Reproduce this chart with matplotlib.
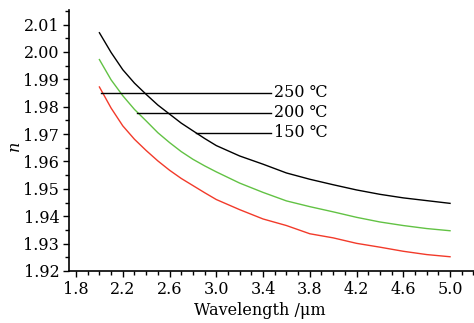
#!/usr/bin/env python3

# refractive index vs wavelength at three temperatures.

import matplotlib
matplotlib.use('Agg')
from matplotlib import pyplot as plt
from matplotlib.ticker import MultipleLocator

wavelength = [2.0, 2.1, 2.2, 2.3, 2.4, 2.5, 2.6, 2.7, 2.8, 2.9, 3.0,
              3.2, 3.4, 3.6, 3.8, 4.0, 4.2, 4.4, 4.6, 4.8, 5.0]
n_250 = [2.0070, 1.9998, 1.9935, 1.9886, 1.9845, 1.9806, 1.9773, 1.9740, 1.9712, 1.9684, 1.9658,
         1.9620, 1.9590, 1.9558, 1.9535, 1.9515, 1.9496, 1.9480, 1.9467, 1.9457, 1.9447]
n_200 = [1.9972, 1.9898, 1.9840, 1.9790, 1.9748, 1.9705, 1.9669, 1.9636, 1.9608, 1.9584, 1.9562,
         1.9521, 1.9487, 1.9456, 1.9435, 1.9416, 1.9396, 1.9379, 1.9366, 1.9355, 1.9347]
n_150 = [1.9872, 1.9795, 1.9730, 1.9681, 1.9640, 1.9602, 1.9568, 1.9538, 1.9512, 1.9486, 1.9461,
         1.9424, 1.9390, 1.9366, 1.9336, 1.9321, 1.9301, 1.9287, 1.9272, 1.9260, 1.9252]

labels = ['250 ℃', '200 ℃', '150 ℃']
# leader lines: (start x, y) in data units, all end at LABEL_X
leaders = [(2.01, 1.9850), (2.32, 1.9777), (2.83, 1.9704)]
LABEL_X = 3.47

FONT = ['DejaVu Serif']
plt.rcParams['font.family'] = FONT
plt.rcParams['font.size'] = 11.5

fig = plt.figure(figsize=(4.74, 3.23), dpi=100)
ax = fig.add_axes([0.1456, 0.161, 0.8544, 0.808])

ax.plot(wavelength, n_250, color='black', lw=1.0)
ax.plot(wavelength, n_200, color='#62c244', lw=1.0)
ax.plot(wavelength, n_150, color='#f23a2a', lw=1.0)

for (x0, y0), lab in zip(leaders, labels):
    ax.plot([x0, LABEL_X], [y0, y0], color='black', lw=1.0)
    ax.text(LABEL_X + 0.02, y0, lab, va='center', ha='left', fontsize=11.5)

ax.set_xlim(1.74, 5.205)
ax.set_ylim(1.92, 2.0153)
ax.xaxis.set_minor_locator(MultipleLocator(0.1))
ax.yaxis.set_minor_locator(MultipleLocator(0.005))
ax.set_xticks([1.8, 2.2, 2.6, 3.0, 3.4, 3.8, 4.2, 4.6, 5.0])
ax.set_xticklabels(['1.8', '2.2', '2.6', '3.0', '3.4', '3.8', '4.2', '4.6', '5.0'])
ax.set_yticks([1.92, 1.93, 1.94, 1.95, 1.96, 1.97, 1.98, 1.99, 2.00, 2.01])
ax.set_yticklabels(['1.92', '1.93', '1.94', '1.95', '1.96', '1.97', '1.98', '1.99', '2.00', '2.01'])
ax.tick_params(which='major', length=4, width=1, pad=3)
ax.tick_params(which='minor', length=3, width=1)

for s in ['top', 'right']:
    ax.spines[s].set_visible(False)
ax.spines['left'].set_linewidth(1.2)
ax.spines['bottom'].set_linewidth(1.2)

ax.set_xlabel('Wavelength /μm')
ax.xaxis.set_label_coords(0.47, -0.118)
ax.set_ylabel('n', style='italic')
ax.yaxis.set_label_coords(-0.115, 0.48)

fig.savefig('out.png', dpi=100)
